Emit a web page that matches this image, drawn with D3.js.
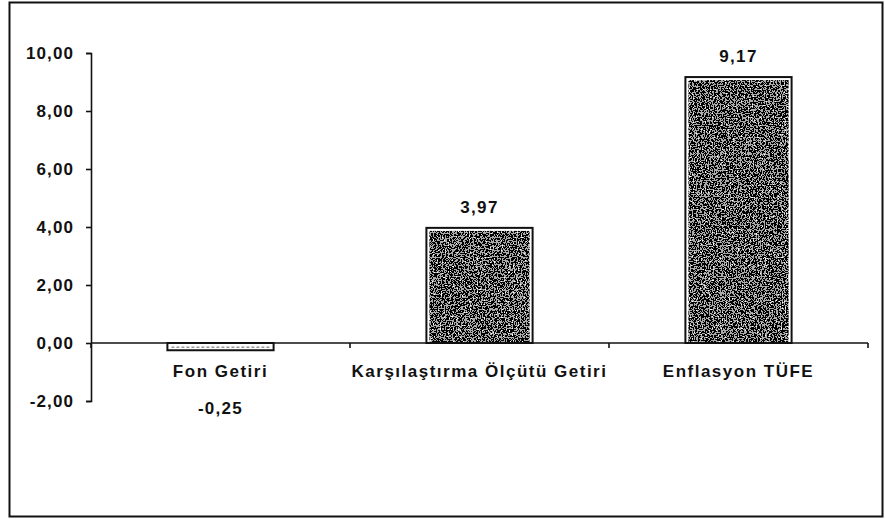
<!DOCTYPE html>
<html>
<head>
<meta charset="utf-8">
<script src="https://cdn.jsdelivr.net/npm/d3@7"></script>
<style>
  body { margin: 0; background: #fff; }
  svg text { font-family: "Liberation Sans", Arial, sans-serif; font-weight: bold; fill: #111; }
</style>
</head>
<body>
<div id="chart"></div>
<script>
// chart data
const categories = ['Fon Getiri', 'Karşılaştırma Ölçütü Getiri', 'Enflasyon TÜFE'];
const values = [-0.25, 3.97, 9.17];
const yTicks = [-2, 0, 2, 4, 6, 8, 10];

const data = categories.map((c, i) => ({ cat: c, val: values[i] }));

const width = 885;
const height = 519;
const margin = { top: 53, right: 17, bottom: 118, left: 91 };

const trLocale = d3.formatLocale({ decimal: ',', thousands: '.', grouping: [3], currency: ['', ' TL'], minus: '-' });
const fmt = trLocale.format('.2f');

const svg = d3.select('#chart')
  .append('svg')
  .attr('width', width)
  .attr('height', height);

// noise texture for the filled bars (scanned look)
const defs = svg.append('defs');
const noise = defs.append('filter')
  .attr('id', 'speckle')
  .attr('x', 0).attr('y', 0).attr('width', 1).attr('height', 1);
noise.append('feTurbulence')
  .attr('type', 'fractalNoise')
  .attr('baseFrequency', 0.75)
  .attr('numOctaves', 2)
  .attr('seed', 7)
  .attr('result', 'turb');
noise.append('feColorMatrix')
  .attr('in', 'turb')
  .attr('type', 'saturate')
  .attr('values', 0)
  .attr('result', 'gray');
const ct = noise.append('feComponentTransfer').attr('in', 'gray').attr('result', 'bw');
['feFuncR', 'feFuncG', 'feFuncB'].forEach(f => {
  ct.append(f).attr('type', 'discrete').attr('tableValues', '0 0 0 0.4 1 1');
});
ct.append('feFuncA').attr('type', 'linear').attr('slope', 0).attr('intercept', 1);
noise.append('feComposite')
  .attr('in', 'bw')
  .attr('in2', 'SourceAlpha')
  .attr('operator', 'in');

// outer frame
svg.append('rect')
  .attr('x', 9.5)
  .attr('y', 2.5)
  .attr('width', 873)
  .attr('height', 514)
  .attr('fill', 'none')
  .attr('stroke', '#111')
  .attr('stroke-width', 2);

// scales
const x = d3.scaleBand()
  .domain(categories)
  .range([margin.left, width - margin.right])
  .paddingInner(0.59)
  .paddingOuter(0.295);

const y = d3.scaleLinear()
  .domain([-2, 10])
  .range([height - margin.bottom, margin.top]);

// y axis
const yAxis = svg.append('g')
  .attr('transform', `translate(${margin.left},0)`)
  .call(d3.axisLeft(y).tickValues(yTicks).tickFormat(fmt).tickSize(5).tickPadding(12));
yAxis.select('.domain').attr('stroke', '#111').attr('stroke-width', 1.6);
yAxis.selectAll('.tick line').attr('stroke', '#111').attr('stroke-width', 1.6);
yAxis.selectAll('.tick text')
  .attr('font-size', 17)
  .attr('letter-spacing', 1.1)
  .attr('fill', '#111');

// bars
const bars = svg.append('g').selectAll('g')
  .data(data)
  .enter()
  .append('g');

bars.append('rect')
  .attr('x', d => x(d.cat))
  .attr('y', d => y(Math.max(0, d.val)))
  .attr('width', x.bandwidth())
  .attr('height', d => Math.abs(y(d.val) - y(0)))
  .attr('fill', '#fff')
  .attr('stroke', '#111')
  .attr('stroke-width', 2);

bars.filter(d => d.val > 0).append('rect')
  .attr('x', d => x(d.cat) + 3)
  .attr('y', d => y(d.val) + 3)
  .attr('width', x.bandwidth() - 6)
  .attr('height', d => y(0) - y(d.val) - 4)
  .attr('fill', '#000')
  .attr('filter', 'url(#speckle)');

// faint hatching inside the small negative bar
bars.filter(d => d.val < 0).append('line')
  .attr('x1', d => x(d.cat) + 4)
  .attr('x2', d => x(d.cat) + x.bandwidth() - 4)
  .attr('y1', d => y(0) + (y(d.val) - y(0)) / 2 + 0.5)
  .attr('y2', d => y(0) + (y(d.val) - y(0)) / 2 + 0.5)
  .attr('stroke', '#999')
  .attr('stroke-width', 1.5)
  .attr('stroke-dasharray', '3,2');

// x axis at zero
const xAxis = svg.append('g')
  .attr('transform', `translate(0,${y(0)})`);
xAxis.append('line')
  .attr('x1', margin.left)
  .attr('x2', width - margin.right)
  .attr('stroke', '#111')
  .attr('stroke-width', 1.6);
const boundaries = [margin.left].concat(categories.map(c => x(c) + x.bandwidth() + x.step() * x.paddingInner() / 2));
boundaries[boundaries.length - 1] = width - margin.right;
xAxis.selectAll('.xtick')
  .data(boundaries)
  .enter()
  .append('line')
  .attr('class', 'xtick')
  .attr('x1', d => d).attr('x2', d => d)
  .attr('y1', 0).attr('y2', 5)
  .attr('stroke', '#111')
  .attr('stroke-width', 1.6);

// category labels
svg.append('g').selectAll('text')
  .data(data)
  .enter()
  .append('text')
  .attr('x', d => x(d.cat) + x.bandwidth() / 2)
  .attr('y', y(0) + 34)
  .attr('text-anchor', 'middle')
  .attr('font-size', 17)
  .attr('letter-spacing', 1.5)
  .text(d => d.cat);

// value labels
svg.append('g').selectAll('text')
  .data(data)
  .enter()
  .append('text')
  .attr('x', d => x(d.cat) + x.bandwidth() / 2)
  .attr('y', d => d.val >= 0 ? y(d.val) - 15 : y(0) + 71)
  .attr('text-anchor', 'middle')
  .attr('font-size', 17)
  .attr('letter-spacing', 1.3)
  .text(d => fmt(d.val));
</script>
</body>
</html>
